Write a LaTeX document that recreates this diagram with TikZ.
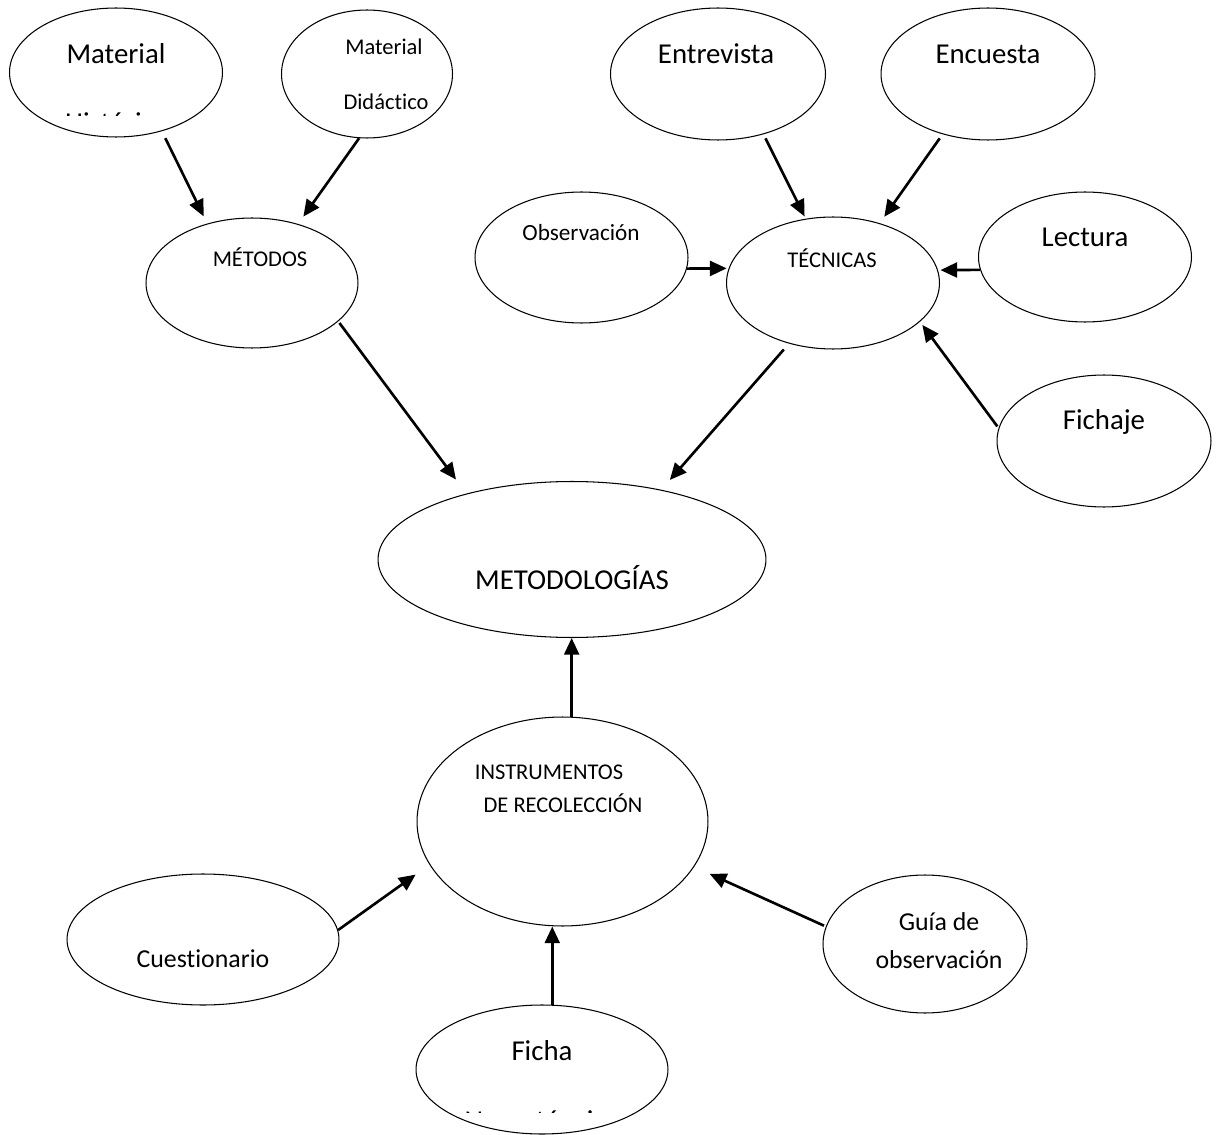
\documentclass[tikz,border=0pt]{standalone}
\usepackage{fontspec}
\setmainfont{Carlito}[Ligatures=NoCommon]
\usetikzlibrary{arrows.meta,shapes.geometric}
\tikzset{bub/.style 2 args={ellipse, draw, line width=.6pt, inner sep=0pt, minimum width=#1, minimum height=#2}, arr/.style={-{Triangle[length=9.5pt,width=8.5pt]}, line width=1.5pt}, big/.style={anchor=base, inner sep=0pt, font=\fontsize{16.4}{19}\selectfont}, med/.style={anchor=base, inner sep=0pt, font=\fontsize{14.7}{17}\selectfont}, sml/.style={anchor=base, inner sep=0pt, font=\fontsize{12.8}{15}\selectfont}}
\begin{document}
\begin{tikzpicture}[x=0.02cm,y=-0.02cm]
\useasboundingbox (0,0) rectangle (1218,1135);
\node[bub={4.26cm}{2.58cm}] (mhis) at (116,72.5) {}; \node[bub={3.42cm}{2.56cm}] (mdid) at (367,74) {};
\node[bub={4.3cm}{2.64cm}] (entr) at (718,74) {}; \node[bub={4.28cm}{2.64cm}] (encu) at (988,74) {};
\node[bub={4.24cm}{2.6cm}] (metodos) at (252,283) {}; \node[bub={4.26cm}{2.62cm}] (obs) at (581.5,257.5) {};
\node[bub={4.26cm}{2.64cm}] (tec) at (833,283) {}; \node[bub={4.26cm}{2.6cm}] (lect) at (1085,257) {};
\node[bub={4.28cm}{2.64cm}] (fich) at (1104,441) {};
\node[bub={7.76cm}{3.12cm}] (metod) at (572,559.5) {};
\node[bub={5.82cm}{4.18cm}] (instr) at (562.5,821.5) {};
\node[bub={5.44cm}{2.62cm}] (cuest) at (203,939.5) {}; \node[bub={4.08cm}{2.76cm}] (guia) at (925,944) {};
\node[bub={5.04cm}{2.58cm}] (ficha) at (542,1069.5) {};
\node[big] (tmhis) at (116,64) {Material};
\begin{scope} \clip (0,0) rectangle (1218,116); \node[big] (tmhis2) at (117,133) {Histórico}; \end{scope}
\node[sml] (tmdid) at (384,55) {Material}; \node[sml] (tmdid2) at (386,110) {Didáctico};
\node[big] (tentr) at (716,64) {Entrevista}; \node[big] (tencu) at (988,64) {Encuesta};
\node[sml] (tmetodos) at (260,267) {MÉTODOS}; \node[font=\fontsize{13.2}{15}\selectfont, anchor=base, inner sep=0pt] (tobs) at (581,241) {Observación};
\node[sml] (ttec) at (832,268) {TÉCNICAS}; \node[big] (tlect) at (1085,247) {Lectura}; \node[big] (tfich) at (1104,430) {Fichaje};
\node[big] (tmetod) at (572,589) {METODOLOGÍAS};
\node[sml] (tinstr) at (549,779) {INSTRUMENTOS}; \node[sml] (tinstr2) at (563,812) {DE RECOLECCIÓN};
\node[med] (tcuest) at (203,967) {Cuestionario}; \node[med] (tguia) at (939,930) {Guía de}; \node[med] (tguia2) at (939,968) {observación};
\node[big] (tficha) at (542,1060) {Ficha};
\begin{scope} \clip (0,0) rectangle (1218,1112); \node[big] (tficha2) at (542,1130) {Nemotécnica}; \end{scope}
\foreach \src/\dst/\sa/\sb in {mhis.-52.7/metodos.127.7/.154cm/.16cm, mdid.-97.2/metodos.52.6/0cm/.18cm, metodos.-24.1/metod.148.5/.04cm/.35cm, tec.-126/metod.38.6/.156cm/.26cm, entr.-53.1/tec.113.6/.09cm/.05cm, encu.-127/tec.52.7/.1cm/.156cm, obs.-6.3/tec.172.3/0cm/.04cm, lect.187.1/tec.7.1/0cm/.05cm, fich.173.1/tec.-24.2/.04cm/.08cm, cuest.4.8/instr.-162/0cm/.34cm, guia.170.6/instr.-19.7/.04cm/.34cm}{\draw[arr, shorten <=\sa, shorten >=\sb] (\src) -- (\dst);}
\draw[arr] (instr.85) -- (instr.85 |- metod.south); \draw[arr] (ficha.81) -- (ficha.81 |- instr.south);
\end{tikzpicture}
\end{document}
